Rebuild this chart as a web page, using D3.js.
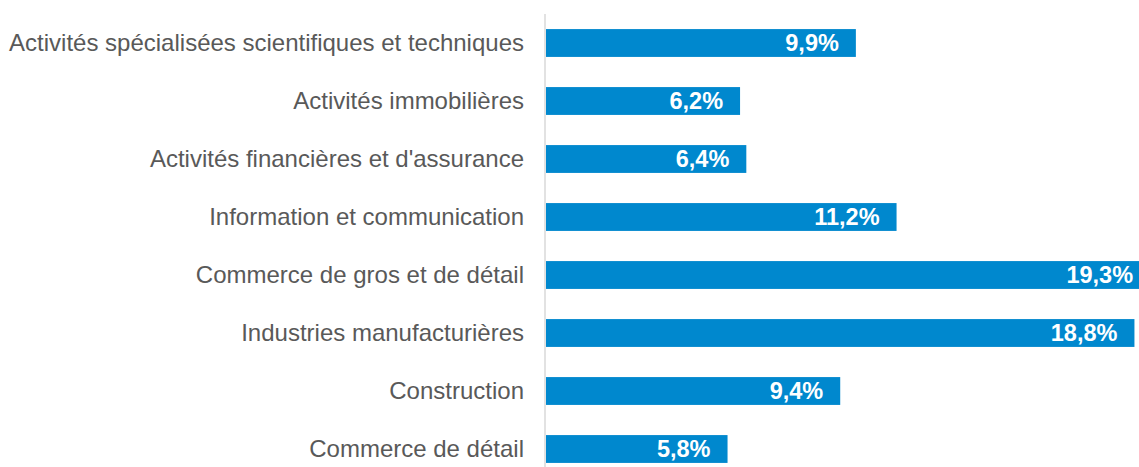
<!DOCTYPE html>
<html>
<head>
<meta charset="utf-8">
<script src="https://cdn.jsdelivr.net/npm/d3@7"></script>
<style>
  html, body { margin: 0; padding: 0; background: #fff; }
  svg { display: block; }
</style>
</head>
<body>
<svg id="chart" width="1139" height="467"></svg>
<script>
// Sector labels, top to bottom
const categories = [
  "Activités spécialisées scientifiques et techniques",
  "Activités immobilières",
  "Activités financières et d'assurance",
  "Information et communication",
  "Commerce de gros et de détail",
  "Industries manufacturières",
  "Construction",
  "Commerce de détail"
];
// Share per sector, in percent
const values = [9.9, 6.2, 6.4, 11.2, 19.3, 18.8, 9.4, 5.8];

const svg = d3.select("#chart");
const x0 = 546;

const x = d3.scaleLinear().domain([0, 10]).range([x0, x0 + 313]);
const y = d3.scaleBand()
  .domain(categories)
  .range([14, 14 + 8 * 58])
  .paddingInner(0.52)
  .paddingOuter(0.26);

const fmt = v => d3.format(".1f")(v).replace(".", ",") + "%";

// Bars
svg.append("g").selectAll("rect")
  .data(values)
  .join("rect")
  .attr("x", x(0))
  .attr("y", (d, i) => y(categories[i]))
  .attr("width", d => x(d) - x(0))
  .attr("height", y.bandwidth())
  .attr("fill", "#0088ce");

// Vertical baseline
svg.append("line")
  .attr("x1", x0 - 1).attr("x2", x0 - 1)
  .attr("y1", 14).attr("y2", 467)
  .attr("stroke", "#d9d9d9").attr("stroke-width", 1.5);

// Category labels
svg.append("g").selectAll("text")
  .data(categories)
  .join("text")
  .attr("x", 524)
  .attr("y", d => y(d) + y.bandwidth() / 2)
  .attr("dy", "0.35em")
  .attr("text-anchor", "end")
  .attr("font-family", "Liberation Sans, Arial, sans-serif")
  .attr("font-size", 24)
  .attr("fill", "#595959")
  .text(d => d);

// Value labels inside bar ends
svg.append("g").selectAll("text")
  .data(values)
  .join("text")
  .attr("x", d => x(d) - 17)
  .attr("y", (d, i) => y(categories[i]) + y.bandwidth() / 2)
  .attr("dy", "0.36em")
  .attr("text-anchor", "end")
  .attr("font-family", "Liberation Sans, Arial, sans-serif")
  .attr("font-weight", "bold")
  .attr("font-size", 23.5)
  .attr("fill", "#ffffff")
  .text(d => fmt(d));
</script>
</body>
</html>
